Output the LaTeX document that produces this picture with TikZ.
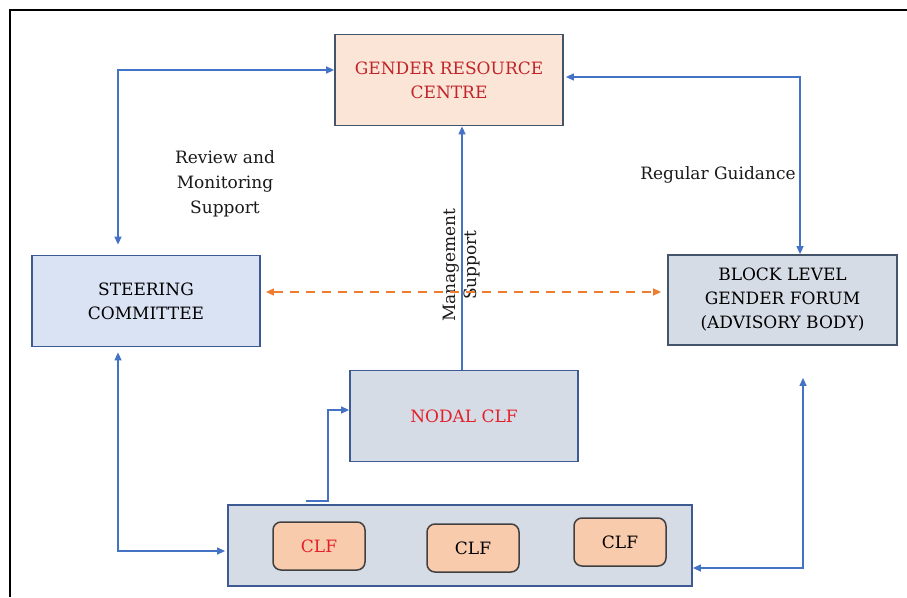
\documentclass[tikz,border=0pt]{standalone}
\usepackage{fontspec}
\setmainfont{DejaVu Serif}
\usetikzlibrary{arrows.meta}
\definecolor{linkblue}{HTML}{4472C4}
\definecolor{dashorange}{HTML}{ED7D31}
\definecolor{peach}{HTML}{FBE5D6}
\definecolor{paleblue}{HTML}{DAE3F3}
\definecolor{slate}{HTML}{D6DCE5}
\definecolor{clffill}{HTML}{F8CBAD}
\definecolor{boxedge}{HTML}{44546A}
\definecolor{blueedge}{HTML}{3D5A94}
\definecolor{darkred}{HTML}{C0252B}
\definecolor{brightred}{HTML}{E3202A}
\tikzset{
  box/.style={draw=boxedge, line width=1.8pt, minimum width=228pt, minimum height=91pt,
              align=center, inner sep=0pt, font=\fontsize{17}{24}\selectfont},
  clfbox/.style={draw=black!75, line width=1.5pt, fill=clffill, rounded corners=8pt,
                 minimum width=92pt, minimum height=48pt, inner sep=0pt,
                 font=\fontsize{17}{20}\selectfont},
  link/.style={draw=linkblue, line width=1.3pt},
  lbl/.style={align=center, font=\fontsize{17}{25}\selectfont, text=black!90}
}
\begin{document}
\begin{tikzpicture}[x=1pt,y=-1pt]
\useasboundingbox (0,0) rectangle (907,597);
% outer frame (top and left edges only)
\draw[black, line width=2.2pt] (10,597) -- (10,10) -- (907,10);

% main boxes
\node[box, fill=peach, text=darkred] (grc) at (449,80) {GENDER RESOURCE\\CENTRE};
\node[box, fill=paleblue, draw=blueedge] (steer) at (146,301) {STEERING\\COMMITTEE};
\node[box, fill=slate, minimum width=229pt, minimum height=90pt] (block) at (782.5,300)
  {BLOCK LEVEL\\GENDER FORUM\\(ADVISORY BODY)};
\node[box, fill=slate, draw=blueedge, text=brightred] (nodal) at (464,416) {NODAL CLF};
\node[box, fill=slate, draw=blueedge, minimum width=464pt, minimum height=81pt] (clfs) at (460,545.5) {};

% cluster level federations
\node[clfbox, text=brightred] (clf1) at (319,546) {CLF};
\node[clfbox] (clf2) at (473,548) {CLF};
\node[clfbox] (clf3) at (620,542) {CLF};

% connectors
\draw[link, {Triangle[length=8pt,width=7pt]}-{Triangle[length=8pt,width=7pt]}, shorten <=10pt]
  ([xshift=-28pt]steer.north) |- ([yshift=10pt]grc.west);
\draw[link, {Triangle[length=8pt,width=7pt]}-{Triangle[length=8pt,width=7pt]}, shorten <=2pt]
  ([yshift=3pt]grc.east) -| ([xshift=17.5pt]block.north);
\draw[link, -{Triangle[length=8pt,width=7pt]}]
  ([xshift=-2pt]nodal.north) -- ([xshift=-2pt]nodal.north |- grc.south);
\node[lbl, rotate=90, font=\fontsize{17}{21}\selectfont] (mgmt) at (462,265) {Management\\Support};
\draw[dashorange, line width=1.3pt, dash pattern=on 9pt off 7pt,
      {Triangle[length=8pt,width=7pt]}-{Triangle[length=8pt,width=7pt]}, shorten <=5pt, shorten >=6pt]
  ([yshift=9pt]steer.east) -- ([yshift=9pt]steer.east -| block.west);
\draw[link, {Triangle[length=8pt,width=7pt]}-{Triangle[length=8pt,width=7pt]}, shorten <=5pt, shorten >=2pt]
  ([xshift=-28pt]steer.south) |- ([yshift=-5.5pt]clfs.west);
\draw[link, {Triangle[length=8pt,width=7pt]}-{Triangle[length=8pt,width=7pt]}, shorten <=32pt]
  ([xshift=20.5pt]block.south) |- ([yshift=-22.5pt]clfs.east);
\draw[link, -{Triangle[length=8pt,width=7pt]}]
  ([xshift=-154pt,yshift=3pt]clfs.north) -- ++(22,0) |- ([yshift=6pt]nodal.west);

% free labels
\node[lbl] (review) at (225,184) {Review and\\Monitoring\\Support};
\node[lbl] (guide) at (718,175) {Regular Guidance};
\end{tikzpicture}
\end{document}
